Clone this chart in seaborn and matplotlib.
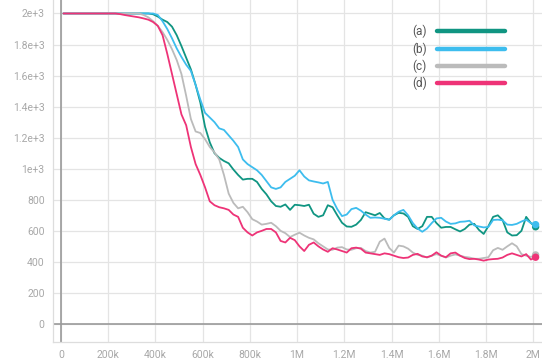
import matplotlib
matplotlib.use("Agg")
import matplotlib.pyplot as plt
import seaborn as sns
import pandas as pd
from matplotlib.lines import Line2D

# training steps (thousands)
steps_k = list(range(10, 2011, 20))

run_a = [2000] * 19 + [
    1995, 1980, 1960, 1945, 1915, 1860, 1790, 1715, 1640, 1540,
    1426, 1270, 1170, 1100, 1070, 1050, 1035, 995, 960, 930,
    935, 935, 915, 870, 835, 790, 760, 755, 770, 735,
    768, 765, 760, 768, 710, 690, 700, 765, 752, 700,
    652, 628, 626, 640, 670, 720, 710, 700, 715, 680,
    672, 700, 716, 712, 690, 630, 612, 630, 690, 690,
    650, 620, 625, 625, 610, 596, 612, 640, 645, 606,
    580, 630, 690, 700, 670, 590, 570, 572, 600, 690,
    650, 626]

run_b = [2000] * 20 + [
    1990, 1950, 1900, 1840, 1775, 1720, 1670, 1630, 1540, 1445,
    1360, 1330, 1300, 1260, 1250, 1215, 1180, 1140, 1060, 1030,
    1010, 990, 960, 920, 880, 870, 880, 915, 935, 955,
    990, 950, 925, 918, 912, 905, 915, 800, 740, 695,
    705, 740, 748, 730, 705, 684, 686, 684, 678, 671,
    700, 723, 735, 700, 650, 615, 594, 615, 650, 680,
    684, 660, 645, 648, 658, 660, 665, 635, 628, 622,
    625, 670, 672, 668, 640, 638, 645, 660, 672, 650,
    640]

run_c = [2000] * 17 + [
    1990, 1975, 1950, 1920, 1880, 1830, 1770, 1700, 1610, 1470,
    1320, 1240, 1230, 1190, 1140, 1105, 1060, 960, 840, 780,
    745, 755, 720, 675, 660, 640, 645, 652, 630, 600,
    585, 560, 575, 588, 570, 555, 545, 520, 500, 480,
    478, 492, 495, 480, 478, 488, 490, 470, 460, 465,
    530, 550, 490, 460, 505, 500, 485, 460, 445, 440,
    428, 440, 450, 440, 428, 440, 448, 440, 432, 428,
    420, 420, 425, 430, 475, 490, 478, 500, 520, 500,
    450, 440, 432, 445]

run_d = [2000] * 12 + [
    1996, 1990, 1985, 1980, 1975, 1968, 1960, 1945, 1920, 1860,
    1740, 1610, 1480, 1350, 1280, 1140, 1030, 960, 880, 790,
    765, 752, 745, 735, 705, 690, 620, 590, 570, 590,
    600, 612, 612, 590, 535, 525, 555, 540, 500, 470,
    510, 525, 500, 480, 465, 488, 480, 470, 460, 488,
    492, 485, 460, 455, 450, 445, 455, 450, 440, 430,
    425, 428, 445, 452, 435, 430, 440, 462, 440, 430,
    455, 460, 440, 425, 418, 420, 415, 408, 415, 418,
    420, 428, 445, 455, 445, 435, 450, 415, 430]

run_labels = ["(a)", "(b)", "(c)", "(d)"]
run_colors = ["#109582", "#3dbdee", "#bbbbbb", "#ee3377"]

x_ticks = [0, 200e3, 400e3, 600e3, 800e3, 1e6, 1.2e6, 1.4e6, 1.6e6, 1.8e6, 2e6]
x_tick_labels = ["0", "200k", "400k", "600k", "800k", "1M", "1.2M", "1.4M",
                 "1.6M", "1.8M", "2M"]
y_ticks = [0, 200, 400, 600, 800, 1000, 1200, 1400, 1600, 1800, 2000]
y_tick_labels = ["0", "200", "400", "600", "800", "1e+3", "1.2e+3", "1.4e+3",
                 "1.6e+3", "1.8e+3", "2e+3"]

frames = []
for lab, vals in zip(run_labels, [run_a, run_b, run_c, run_d]):
    frames.append(pd.DataFrame({"step": [s * 1000 for s in steps_k],
                                "value": vals, "run": lab}))
df = pd.concat(frames, ignore_index=True)
last = df.groupby("run", sort=False).tail(1)

sns.set_theme(style="white")
plt.rcParams["font.family"] = ["Roboto", "DejaVu Sans"]

fig = plt.figure(figsize=(5.42, 3.6), dpi=100)
ax = fig.add_axes([53 / 542, 18 / 360, 1 - 53 / 542 + 0.01, 1 - 18 / 360 + 0.01])

palette = dict(zip(run_labels, run_colors))
sns.lineplot(data=df, x="step", y="value", hue="run", palette=palette,
             linewidth=1.3, ax=ax, legend=False, zorder=3)
sns.scatterplot(data=last, x="step", y="value", hue="run", palette=palette,
                s=28, edgecolor="none", ax=ax, legend=False, zorder=4)

ax.set_xlim(-34e3, 2060e3)
ax.set_ylim(-116, 2110)
ax.set_xticks(x_ticks)
ax.set_xticklabels(x_tick_labels)
ax.set_yticks(y_ticks)
ax.set_yticklabels(y_tick_labels)
ax.set_xlabel("")
ax.set_ylabel("")

ax.grid(True, color="#e4e4e4", linewidth=0.9, zorder=0)
ax.axhline(0, color="#9a9a9a", linewidth=1.2, zorder=2)
ax.axvline(0, color="#9a9a9a", linewidth=1.2, zorder=2)
for side in ["top", "right"]:
    ax.spines[side].set_visible(False)
for side in ["left", "bottom"]:
    ax.spines[side].set_color("#dddddd")
    ax.spines[side].set_linewidth(0.9)
ax.tick_params(axis="both", length=3, width=0.8, color="#dddddd",
               labelcolor="#a8a8a8", labelsize=7.5, pad=3)

handles = [Line2D([0], [0], color=c, linewidth=3.2) for c in run_colors]
ax.legend(handles, run_labels, loc="upper right", bbox_to_anchor=(0.935, 0.948),
          frameon=False, markerfirst=False, handlelength=5.7, handletextpad=0.9,
          labelspacing=0.33, fontsize=8.5, labelcolor="#555555")

fig.savefig("out.png", dpi=100)
